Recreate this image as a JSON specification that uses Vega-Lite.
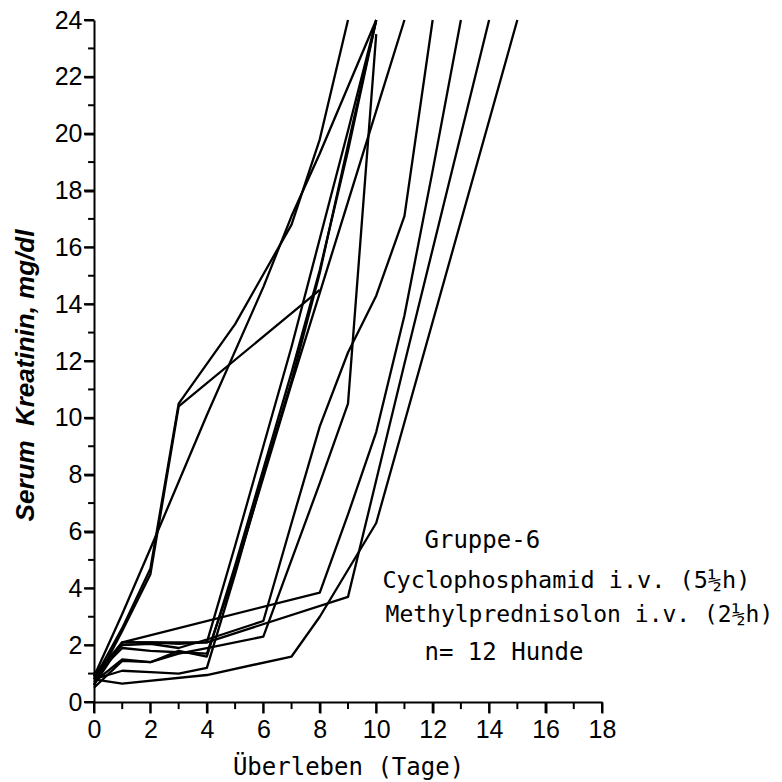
{
  "$schema": "https://vega.github.io/schema/vega-lite/v6.json",
  "width": 508,
  "height": 682,
  "autosize": {"type": "none"},
  "padding": {"left": 94, "top": 20, "right": 180, "bottom": 80},
  "background": "white",
  "config": {
    "view": {"stroke": null},
    "axis": {
      "domainColor": "black",
      "domainWidth": 2,
      "labelColor": "black",
      "labelFont": "Liberation Sans",
      "labelFontSize": 25,
      "titleColor": "black",
      "grid": false
    }
  },
  "datasets": {
    "xMajor": [{"t": 0}, {"t": 2}, {"t": 4}, {"t": 6}, {"t": 8}, {"t": 10}, {"t": 12}, {"t": 14}, {"t": 16}, {"t": 18}],
    "xMinor": [{"t": 1}, {"t": 3}, {"t": 5}, {"t": 7}, {"t": 9}, {"t": 11}, {"t": 13}, {"t": 15}, {"t": 17}],
    "yMajor": [{"t": 0}, {"t": 2}, {"t": 4}, {"t": 6}, {"t": 8}, {"t": 10}, {"t": 12}, {"t": 14}, {"t": 16}, {"t": 18}, {"t": 20}, {"t": 22}, {"t": 24}],
    "yMinor": [{"t": 1}, {"t": 3}, {"t": 5}, {"t": 7}, {"t": 9}, {"t": 11}, {"t": 13}, {"t": 15}, {"t": 17}, {"t": 19}, {"t": 21}, {"t": 23}],
    "kreatinin": [
      {"dog": 1, "day": 0, "kreatinin": 0.8}, {"dog": 1, "day": 1, "kreatinin": 2.6}, {"dog": 1, "day": 2, "kreatinin": 4.7}, {"dog": 1, "day": 3, "kreatinin": 10.5}, {"dog": 1, "day": 5, "kreatinin": 13.3}, {"dog": 1, "day": 7, "kreatinin": 16.8}, {"dog": 1, "day": 8, "kreatinin": 19.8}, {"dog": 1, "day": 9, "kreatinin": 24},
      {"dog": 2, "day": 0, "kreatinin": 0.6}, {"dog": 2, "day": 1, "kreatinin": 2.5}, {"dog": 2, "day": 2, "kreatinin": 4.5}, {"dog": 2, "day": 3, "kreatinin": 10.4}, {"dog": 2, "day": 8, "kreatinin": 14.5},
      {"dog": 3, "day": 0, "kreatinin": 0.9}, {"dog": 3, "day": 1, "kreatinin": 3.1}, {"dog": 3, "day": 2, "kreatinin": 5.4}, {"dog": 3, "day": 4, "kreatinin": 10.1}, {"dog": 3, "day": 6, "kreatinin": 14.6}, {"dog": 3, "day": 7, "kreatinin": 17.1}, {"dog": 3, "day": 8, "kreatinin": 19.3}, {"dog": 3, "day": 10, "kreatinin": 24},
      {"dog": 4, "day": 0, "kreatinin": 0.6}, {"dog": 4, "day": 1, "kreatinin": 2.1}, {"dog": 4, "day": 2, "kreatinin": 2.1}, {"dog": 4, "day": 3, "kreatinin": 2.05}, {"dog": 4, "day": 4, "kreatinin": 2.1}, {"dog": 4, "day": 5, "kreatinin": 5.5}, {"dog": 4, "day": 6, "kreatinin": 9.0}, {"dog": 4, "day": 7, "kreatinin": 12.5}, {"dog": 4, "day": 8, "kreatinin": 16.3}, {"dog": 4, "day": 9, "kreatinin": 20.1}, {"dog": 4, "day": 10, "kreatinin": 24},
      {"dog": 5, "day": 0, "kreatinin": 0.9}, {"dog": 5, "day": 1, "kreatinin": 1.9}, {"dog": 5, "day": 2, "kreatinin": 1.8}, {"dog": 5, "day": 3, "kreatinin": 1.75}, {"dog": 5, "day": 4, "kreatinin": 1.7}, {"dog": 5, "day": 5, "kreatinin": 4.6}, {"dog": 5, "day": 6, "kreatinin": 7.9}, {"dog": 5, "day": 7, "kreatinin": 11.2}, {"dog": 5, "day": 8, "kreatinin": 14.4}, {"dog": 5, "day": 9, "kreatinin": 17.6}, {"dog": 5, "day": 10, "kreatinin": 20.8}, {"dog": 5, "day": 11, "kreatinin": 24},
      {"dog": 6, "day": 0, "kreatinin": 0.8}, {"dog": 6, "day": 1, "kreatinin": 1.1}, {"dog": 6, "day": 2, "kreatinin": 1.05}, {"dog": 6, "day": 3, "kreatinin": 1.0}, {"dog": 6, "day": 4, "kreatinin": 1.2}, {"dog": 6, "day": 5, "kreatinin": 4.5}, {"dog": 6, "day": 6, "kreatinin": 8.0}, {"dog": 6, "day": 7, "kreatinin": 11.3}, {"dog": 6, "day": 8, "kreatinin": 15.1}, {"dog": 6, "day": 9, "kreatinin": 19.6}, {"dog": 6, "day": 10, "kreatinin": 24},
      {"dog": 7, "day": 0, "kreatinin": 0.7}, {"dog": 7, "day": 1, "kreatinin": 1.5}, {"dog": 7, "day": 2, "kreatinin": 1.4}, {"dog": 7, "day": 3, "kreatinin": 1.7}, {"dog": 7, "day": 4, "kreatinin": 1.9}, {"dog": 7, "day": 6, "kreatinin": 2.3}, {"dog": 7, "day": 7, "kreatinin": 5.0}, {"dog": 7, "day": 8, "kreatinin": 7.7}, {"dog": 7, "day": 9, "kreatinin": 10.5}, {"dog": 7, "day": 10, "kreatinin": 23.5},
      {"dog": 8, "day": 0, "kreatinin": 1.0}, {"dog": 8, "day": 1, "kreatinin": 2.0}, {"dog": 8, "day": 2, "kreatinin": 2.05}, {"dog": 8, "day": 3, "kreatinin": 1.9}, {"dog": 8, "day": 4, "kreatinin": 2.2}, {"dog": 8, "day": 6, "kreatinin": 2.85}, {"dog": 8, "day": 7, "kreatinin": 6.3}, {"dog": 8, "day": 8, "kreatinin": 9.7}, {"dog": 8, "day": 9, "kreatinin": 12.3}, {"dog": 8, "day": 10, "kreatinin": 14.3}, {"dog": 8, "day": 11, "kreatinin": 17.1}, {"dog": 8, "day": 12, "kreatinin": 24},
      {"dog": 9, "day": 0, "kreatinin": 0.8}, {"dog": 9, "day": 1, "kreatinin": 2.1}, {"dog": 9, "day": 8, "kreatinin": 3.85}, {"dog": 9, "day": 9, "kreatinin": 6.6}, {"dog": 9, "day": 10, "kreatinin": 9.5}, {"dog": 9, "day": 11, "kreatinin": 13.6}, {"dog": 9, "day": 12, "kreatinin": 18.7}, {"dog": 9, "day": 13, "kreatinin": 24},
      {"dog": 10, "day": 0, "kreatinin": 0.9}, {"dog": 10, "day": 1, "kreatinin": 2.1}, {"dog": 10, "day": 4, "kreatinin": 2.1}, {"dog": 10, "day": 9, "kreatinin": 3.7}, {"dog": 10, "day": 10, "kreatinin": 7.8}, {"dog": 10, "day": 11, "kreatinin": 11.9}, {"dog": 10, "day": 14, "kreatinin": 24},
      {"dog": 11, "day": 0, "kreatinin": 0.8}, {"dog": 11, "day": 1, "kreatinin": 0.65}, {"dog": 11, "day": 4, "kreatinin": 0.95}, {"dog": 11, "day": 7, "kreatinin": 1.6}, {"dog": 11, "day": 8, "kreatinin": 3.0}, {"dog": 11, "day": 10, "kreatinin": 6.3}, {"dog": 11, "day": 15, "kreatinin": 24},
      {"dog": 12, "day": 0, "kreatinin": 0.5}, {"dog": 12, "day": 1, "kreatinin": 1.45}, {"dog": 12, "day": 2, "kreatinin": 1.4}, {"dog": 12, "day": 3, "kreatinin": 1.8}, {"dog": 12, "day": 4, "kreatinin": 1.6}, {"dog": 12, "day": 5, "kreatinin": 4.8}, {"dog": 12, "day": 6, "kreatinin": 8.2}, {"dog": 12, "day": 7, "kreatinin": 11.6}, {"dog": 12, "day": 8, "kreatinin": 15.2}, {"dog": 12, "day": 9, "kreatinin": 19.4}, {"dog": 12, "day": 10, "kreatinin": 24}
    ]
  },
  "layer": [
    {
      "data": {"name": "kreatinin"},
      "mark": {"type": "line", "color": "black", "strokeWidth": 2.3, "strokeJoin": "round"},
      "encoding": {
        "x": {
          "field": "day", "type": "quantitative",
          "scale": {"domain": [0, 18], "nice": false, "zero": true},
          "axis": {
            "title": "Überleben (Tage)",
            "titleFont": "DejaVu Sans Mono",
            "titleFontSize": 24,
            "titleFontWeight": "normal",
            "titlePadding": 13,
            "values": [0,2,4,6,8,10,12,14,16,18],
            "ticks": true,
            "tickSize": 11,
            "tickColor": "#000000",
            "tickWidth": 2,
            "labelPadding": 4,
            "labelFlush": false
          }
        },
        "y": {
          "field": "kreatinin", "type": "quantitative",
          "scale": {"domain": [0, 24], "nice": false},
          "axis": {
            "title": "Serum\u00a0 Kreatinin, mg/dl",
            "titleFont": "Liberation Sans",
            "titleFontSize": 26,
            "titleFontStyle": "italic",
            "titleFontWeight": "bold",
            "titlePadding": 16,
            "titleY": 355,
            "values": [0,2,4,6,8,10,12,14,16,18,20,22,24],
            "ticks": true,
            "tickSize": 10,
            "tickColor": "#000000",
            "tickWidth": 2,
            "labelPadding": 2,
            "labelFlush": false
          }
        },
        "detail": {"field": "dog", "type": "nominal"}
      }
    },
    {
      "data": {"name": "xMajor"},
      "mark": {"type": "rule", "color": "black", "strokeWidth": 2, "clip": false},
      "encoding": {"x": {"field": "t", "type": "quantitative"}, "y": {"datum": 0}, "y2": {"datum": -0.39}}
    },
    {
      "data": {"name": "xMinor"},
      "mark": {"type": "rule", "color": "black", "strokeWidth": 2, "clip": false},
      "encoding": {"x": {"field": "t", "type": "quantitative"}, "y": {"datum": 0}, "y2": {"datum": -0.25}}
    },
    {
      "data": {"name": "yMajor"},
      "mark": {"type": "rule", "color": "black", "strokeWidth": 2, "clip": false},
      "encoding": {"y": {"field": "t", "type": "quantitative"}, "x": {"datum": 0}, "x2": {"datum": -0.354}}
    },
    {
      "data": {"name": "yMinor"},
      "mark": {"type": "rule", "color": "black", "strokeWidth": 2, "clip": false},
      "encoding": {"y": {"field": "t", "type": "quantitative"}, "x": {"datum": 0}, "x2": {"datum": -0.21}}
    },
    {
      "data": {"values": [{"label": "Gruppe-6"}]},
      "mark": {"type": "text", "font": "DejaVu Sans Mono", "fontSize": 24, "align": "left", "baseline": "alphabetic", "color": "black"},
      "encoding": {"x": {"datum": 11.71}, "y": {"datum": 5.42}, "text": {"field": "label"}}
    },
    {
      "data": {"values": [{"label": "Cyclophosphamid i.v. (5½h)"}]},
      "mark": {"type": "text", "font": "DejaVu Sans Mono", "fontSize": 23.5, "align": "left", "baseline": "alphabetic", "color": "black"},
      "encoding": {"x": {"datum": 10.22}, "y": {"datum": 4.01}, "text": {"field": "label"}}
    },
    {
      "data": {"values": [{"label": "Methylprednisolon i.v. (2½h)"}]},
      "mark": {"type": "text", "font": "DejaVu Sans Mono", "fontSize": 23, "align": "left", "baseline": "alphabetic", "color": "black"},
      "encoding": {"x": {"datum": 10.33}, "y": {"datum": 2.81}, "text": {"field": "label"}}
    },
    {
      "data": {"values": [{"label": "n= 12 Hunde"}]},
      "mark": {"type": "text", "font": "DejaVu Sans Mono", "fontSize": 24, "align": "left", "baseline": "alphabetic", "color": "black"},
      "encoding": {"x": {"datum": 11.71}, "y": {"datum": 1.48}, "text": {"field": "label"}}
    }
  ]
}
